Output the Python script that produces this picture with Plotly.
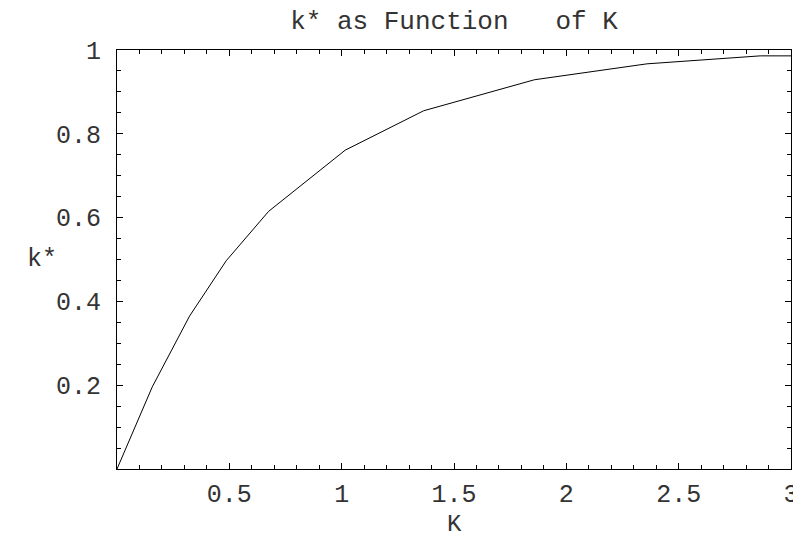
import plotly.graph_objects as go

# values
K = [0, 0.157, 0.323, 0.486, 0.675, 1.016, 1.365, 1.858, 2.359, 2.863, 3.0]
k_star = [0, 0.196, 0.365, 0.497, 0.615, 0.761, 0.855, 0.929, 0.967, 0.986, 0.986]

font = "Courier New, Liberation Mono, monospace"
txt = dict(family=font, size=25, color="#333")

fig = go.Figure()
fig.add_trace(go.Scatter(x=K, y=k_star, mode="lines",
                         line=dict(color="black", width=1), showlegend=False))

axis = dict(showgrid=False, zeroline=False, showline=True, linecolor="black",
            linewidth=1, mirror="ticks", ticks="inside", ticklen=6,
            tickcolor="black", tickwidth=1, tickmode="linear", tick0=0,
            labelalias={"0": ""}, tickfont=txt)

fig.update_xaxes(axis, range=[0, 3], dtick=0.5,
                 minor=dict(dtick=0.1, ticks="inside", ticklen=4, tickcolor="black"),
                 ticklabelstandoff=2)
fig.update_yaxes(axis, range=[0, 1], dtick=0.2,
                 minor=dict(dtick=0.05, ticks="inside", ticklen=4, tickcolor="black"),
                 ticklabelstandoff=10)

fig.add_annotation(text="K", xref="paper", yref="paper", x=0.5, y=-0.133,
                   yanchor="middle", showarrow=False, font=dict(family=font, size=24, color="#333"))
fig.add_annotation(text="k*", xref="paper", yref="paper", x=-0.137, y=0.5,
                   showarrow=False, font=txt)

# page body adds an 8px offset, so the figure is 8px smaller
fig.update_layout(
    width=793, height=531,
    margin=dict(l=109, r=10, t=42, b=70, autoexpand=False),
    paper_bgcolor="white", plot_bgcolor="white",
    title=dict(text="k* as Function   of K", x=0.5624, xanchor="center",
               y=1 - 12 / 531, yanchor="middle",
               font=dict(family=font, size=26, color="#333")),
)

fig.write_html("out.html")
